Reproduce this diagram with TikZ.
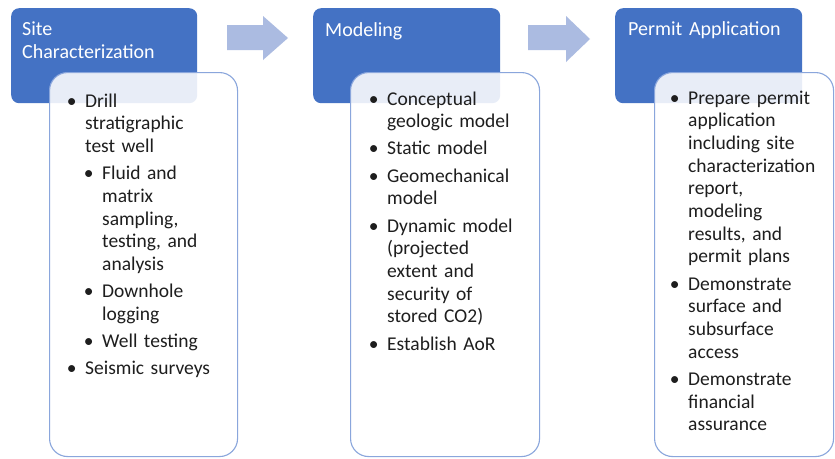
\documentclass[tikz,border=0pt]{standalone}
\usepackage{fontspec}
\setmainfont{Carlito}

\definecolor{hdrblue}{HTML}{4472C4}
\definecolor{bodyline}{HTML}{8AA6DC}
\definecolor{arrowfill}{HTML}{ABBBE1}
\definecolor{ink}{HTML}{1E1E1E}

% bullet paragraphs: #1 = indent of the text, #2 = text (with \newline breaks)
\newcommand\firstpt[2]{\leftskip=#1\relax\noindent\strut\llap{\textbullet\hspace{8.5pt}}#2\par}
\newcommand\nextpt[2]{\vspace{4.5pt}\firstpt{#1}{#2}}

\tikzset{
  header/.style={draw=none, fill=hdrblue, rounded corners=8pt, anchor=north west, inner sep=0pt},
  bodybox/.style={draw=bodyline, line width=1.1pt, fill=white, fill opacity=0.88,
                  rounded corners=18pt, anchor=north west, inner sep=0pt},
  hdrtext/.style={anchor=north west, inner sep=0pt, text width=180pt, align=left,
                  text=white, font=\fontsize{20}{23}\selectfont},
  listtext/.style={anchor=north west, inner sep=0pt, text width=160pt, align=left,
                   text=ink, font=\fontsize{19.5}{22.7}\selectfont},
  flowarrow/.style={fill=arrowfill, draw=none}
}

\begin{document}
\begin{tikzpicture}[x=1pt, y=-1pt]
\useasboundingbox (0,0) rectangle (835,458);
\fill[white] (0,0) rectangle (835,458);

% block arrows between the stages
\fill[flowarrow] (227,25) -- (263,25) -- (263,16) -- (288,38) -- (263,60) -- (263,50) -- (227,50) -- cycle;
\fill[flowarrow] (528,25) -- (566,25) -- (566,16) -- (590,39) -- (566,62) -- (566,50) -- (528,50) -- cycle;

% stage 1: site characterization
\node[header, minimum width=186pt, minimum height=95pt] (h1) at (11,8) {};
\node[hdrtext] (h1t) at (22,19) {\strut Site\newline Characterization};
\node[bodybox, minimum width=188pt, minimum height=384pt] (b1) at (49,72) {};
\node[listtext] (b1t) at (85,91) {%
  \firstpt{0pt}{Drill\newline stratigraphic\newline test well}%
  \nextpt{17pt}{Fluid and\newline matrix\newline sampling,\newline testing, and\newline analysis}%
  \nextpt{17pt}{Downhole\newline logging}%
  \nextpt{17pt}{Well testing}%
  \nextpt{0pt}{Seismic surveys}};

% stage 2: modeling
\node[header, minimum width=187pt, minimum height=95pt] (h2) at (313,8) {};
\node[hdrtext] (h2t) at (325,20) {\strut Modeling};
\node[bodybox, minimum width=189pt, minimum height=384pt] (b2) at (350,72) {};
\node[listtext] (b2t) at (387,89) {%
  \firstpt{0pt}{Conceptual\newline geologic model}%
  \nextpt{0pt}{Static model}%
  \nextpt{0pt}{Geomechanical\newline model}%
  \nextpt{0pt}{Dynamic model\newline (projected\newline extent and\newline security of\newline stored CO2)}%
  \nextpt{0pt}{Establish AoR}};

% stage 3: permit application
\node[header, minimum width=187pt, minimum height=95pt] (h3) at (615,8) {};
\node[hdrtext] (h3t) at (628,19) {\strut Permit Application};
\node[bodybox, minimum width=179pt, minimum height=384pt] (b3) at (654,72) {};
\node[listtext] (b3t) at (688,88) {%
  \firstpt{0pt}{Prepare permit\newline application\newline including site\newline characterization\newline report,\newline modeling\newline results, and\newline permit plans}%
  \nextpt{0pt}{Demonstrate\newline surface and\newline subsurface\newline access}%
  \nextpt{0pt}{Demonstrate\newline financial\newline assurance}};
\end{tikzpicture}
\end{document}
